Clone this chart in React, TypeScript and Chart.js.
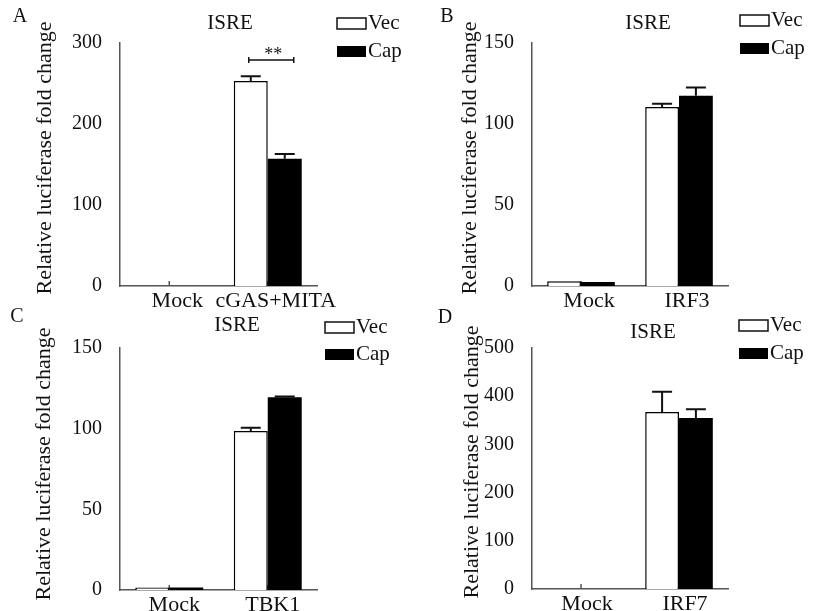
import React, { useEffect, useRef } from 'react';
import { Chart, registerables } from 'chart.js';

Chart.register(...registerables);

const FONT = '"Liberation Serif", "Times New Roman", Times, serif';
const TEXT = '#111';
const AXIS = '#555';

// ---- data ----
const seriesNames = ['Vec', 'Cap'];
const chartTitle = 'ISRE';
const yAxisTitle = 'Relative luciferase fold change';
const significanceA = '**';

const categoriesA = ['Mock', 'cGAS+MITA'];
const vecA = [0, 253];
const capA = [0, 157];
const vecErrA = [0, 6];
const capErrA = [0, 6];
const yMaxA = 300;
const yStepA = 100;

const categoriesB = ['Mock', 'IRF3'];
const vecB = [3, 110.5];
const capB = [2.5, 117.5];
const vecErrB = [0, 2];
const capErrB = [0, 5];
const yMaxB = 150;
const yStepB = 50;

const categoriesC = ['Mock', 'TBK1'];
const vecC = [1.5, 98.5];
const capC = [1.5, 119.5];
const vecErrC = [0, 2];
const capErrC = [0, 0.5];
const yMaxC = 150;
const yStepC = 50;

const categoriesD = ['Mock', 'IRF7'];
const vecD = [0, 367];
const capD = [0, 355];
const vecErrD = [0, 42];
const capErrD = [0, 18];
const yMaxD = 500;
const yStepD = 100;

// ---- layout (absolute page pixels) ----
const layouts = {
  A: { box: { x0: 0, y0: 0, w: 408, h: 310 }, area: { l: 120, r: 317, t: 43, b: 286 }, letter: { x: 20, y: 17 }, title: { x: 230, y: 23 }, yTitle: { x: 45, y: 158 }, legend: { x: 337, vecY: 18, capY: 46 }, labelOffset: 8 },
  B: { box: { x0: 408, y0: 0, w: 408, h: 310 }, area: { l: 532, r: 728, t: 43, b: 286 }, letter: { x: 447, y: 17 }, title: { x: 648, y: 23 }, yTitle: { x: 470, y: 158 }, legend: { x: 740, vecY: 15, capY: 43 }, labelOffset: 8 },
  C: { box: { x0: 0, y0: 303, w: 408, h: 308 }, area: { l: 120, r: 317, t: 348, b: 590 }, letter: { x: 17, y: 317 }, title: { x: 237, y: 325 }, yTitle: { x: 44, y: 464 }, legend: { x: 325, vecY: 322, capY: 349 }, labelOffset: 5 },
  D: { box: { x0: 408, y0: 303, w: 408, h: 308 }, area: { l: 532, r: 728, t: 348, b: 589 }, letter: { x: 445, y: 318 }, title: { x: 653, y: 332 }, yTitle: { x: 472, y: 462 }, legend: { x: 739, vecY: 320, capY: 348 }, labelOffset: 6 },
};

const panels = [
  { letter: 'A', categories: categoriesA, vec: vecA, cap: capA, vecErr: vecErrA, capErr: capErrA, yMax: yMaxA, yStep: yStepA, sig: significanceA, L: layouts.A },
  { letter: 'B', categories: categoriesB, vec: vecB, cap: capB, vecErr: vecErrB, capErr: capErrB, yMax: yMaxB, yStep: yStepB, sig: '', L: layouts.B },
  { letter: 'C', categories: categoriesC, vec: vecC, cap: capC, vecErr: vecErrC, capErr: capErrC, yMax: yMaxC, yStep: yStepC, sig: '', L: layouts.C },
  { letter: 'D', categories: categoriesD, vec: vecD, cap: capD, vecErr: vecErrD, capErr: capErrD, yMax: yMaxD, yStep: yStepD, sig: '', L: layouts.D },
];

function makePlugin(p: any) {
  const { box } = p.L;
  const rx = (x: number) => x - box.x0;
  const ry = (y: number) => y - box.y0;
  return {
    id: 'decor' + p.letter,
    beforeDatasetsDraw(chart: any) {
      const ctx = chart.ctx;
      const xs = chart.scales.x;
      const area = chart.chartArea;
      ctx.save();
      ctx.strokeStyle = AXIS;
      ctx.lineWidth = 1.5;
      p.categories.forEach((_: string, i: number) => {
        const x = xs.getPixelForValue(i);
        ctx.beginPath();
        ctx.moveTo(x, area.bottom);
        ctx.lineTo(x, area.bottom - 5);
        ctx.stroke();
      });
      ctx.restore();
    },
    afterDatasetsDraw(chart: any) {
      const ctx = chart.ctx;
      const ys = chart.scales.y;
      ctx.save();
      ctx.strokeStyle = '#111';
      ctx.lineWidth = 2;
      [p.vecErr, p.capErr].forEach((errs: number[], di: number) => {
        const meta = chart.getDatasetMeta(di);
        const vals = chart.data.datasets[di].data;
        meta.data.forEach((bar: any, i: number) => {
          const e = errs[i];
          if (!e) return;
          const top = ys.getPixelForValue(vals[i] + e);
          const base = ys.getPixelForValue(vals[i]);
          const half = 10;
          ctx.beginPath();
          ctx.moveTo(bar.x, base);
          ctx.lineTo(bar.x, top);
          ctx.moveTo(bar.x - half, top);
          ctx.lineTo(bar.x + half, top);
          ctx.stroke();
        });
      });
      if (p.sig) {
        const xs = chart.scales.x;
        const c = xs.getPixelForValue(1);
        const y = ys.getPixelForValue(279);
        const x1 = c - 19;
        const x2 = c + 26;
        ctx.lineWidth = 1.5;
        ctx.beginPath();
        ctx.moveTo(x1, y);
        ctx.lineTo(x2, y);
        ctx.moveTo(x1, y - 3);
        ctx.lineTo(x1, y + 3);
        ctx.moveTo(x2, y - 3);
        ctx.lineTo(x2, y + 3);
        ctx.stroke();
        ctx.fillStyle = TEXT;
        ctx.font = `18px ${FONT}`;
        ctx.textAlign = 'center';
        ctx.textBaseline = 'alphabetic';
        ctx.fillText(p.sig, (x1 + x2) / 2 + 2, y + 0);
      }
      ctx.restore();
    },
    afterDraw(chart: any) {
      const ctx = chart.ctx;
      const L = p.L;
      const xs = chart.scales.x;
      const area = chart.chartArea;
      ctx.save();
      ctx.fillStyle = TEXT;
      // category labels
      ctx.font = `22px ${FONT}`;
      ctx.textAlign = 'center';
      ctx.textBaseline = 'alphabetic';
      p.categories.forEach((c: string, i: number) => {
        ctx.fillText(c, xs.getPixelForValue(i) + L.labelOffset, area.bottom + 21);
      });
      ctx.textBaseline = 'middle';
      // panel letter
      ctx.font = `20px ${FONT}`;
      ctx.fillText(p.letter, rx(L.letter.x), ry(L.letter.y));
      // title
      ctx.font = `21px ${FONT}`;
      ctx.fillText(chartTitle, rx(L.title.x), ry(L.title.y));
      // y axis title
      ctx.save();
      ctx.translate(rx(L.yTitle.x), ry(L.yTitle.y));
      ctx.rotate(-Math.PI / 2);
      ctx.font = `22px ${FONT}`;
      ctx.fillText(yAxisTitle, 0, 0);
      ctx.restore();
      // legend
      const bw = 29;
      const bh = 11;
      const lx = rx(L.legend.x);
      const vy = ry(L.legend.vecY);
      const cy = ry(L.legend.capY);
      ctx.fillStyle = '#fff';
      ctx.fillRect(lx, vy, bw, bh);
      ctx.strokeStyle = '#111';
      ctx.lineWidth = 1.5;
      ctx.strokeRect(lx, vy, bw, bh);
      ctx.fillStyle = '#000';
      ctx.fillRect(lx, cy, bw, bh);
      ctx.fillStyle = TEXT;
      ctx.font = `21px ${FONT}`;
      ctx.textAlign = 'left';
      ctx.fillText(seriesNames[0], lx + bw + 2, vy + bh / 2);
      ctx.fillText(seriesNames[1], lx + bw + 2, cy + bh / 2);
      ctx.restore();
    },
  };
}

function PanelChart({ p }: { p: any }) {
  const ref = useRef<HTMLCanvasElement | null>(null);
  useEffect(() => {
    const { box, area } = p.L;
    const want = { top: area.t - box.y0, bottom: area.b - box.y0, left: area.l - box.x0, right: area.r - box.x0 };
    const st = { top: want.top, right: box.w - want.right, xh: box.h - want.bottom, yw: want.left };
    const chart = new Chart(ref.current as HTMLCanvasElement, {
      type: 'bar',
      data: {
        labels: p.categories,
        datasets: [
          { label: seriesNames[0], data: p.vec, backgroundColor: '#fff', borderColor: '#000', borderWidth: 1.5, categoryPercentage: 0.69, barPercentage: 1 },
          { label: seriesNames[1], data: p.cap, backgroundColor: '#000', borderColor: '#000', borderWidth: 0, categoryPercentage: 0.69, barPercentage: 1 },
        ],
      },
      options: {
        responsive: false,
        animation: false,
        events: [],
        layout: { autoPadding: false, padding: { left: 0, top: st.top, right: st.right, bottom: 0 } },
        plugins: { legend: { display: false }, title: { display: false }, tooltip: { enabled: false } },
        scales: {
          x: {
            grid: { display: false, drawTicks: false },
            border: { display: true, color: AXIS, width: 1.5 },
            ticks: { display: false },
            afterFit: (s: any) => { s.height = st.xh; s.paddingLeft = 0; s.paddingRight = 0; },
          },
          y: {
            min: 0,
            max: p.yMax,
            grid: { display: false, drawTicks: false },
            border: { display: true, color: AXIS, width: 1.5 },
            ticks: { stepSize: p.yStep, font: { family: FONT, size: 20 }, color: TEXT, padding: 18 },
            afterFit: (s: any) => { s.width = st.yw; s.paddingTop = 0; s.paddingBottom = 0; },
          },
        },
      },
      plugins: [makePlugin(p)],
    } as any);
    for (let k = 0; k < 2; k++) {
      const ca = chart.chartArea;
      st.top += want.top - ca.top;
      st.xh = Math.max(0, st.xh + (ca.bottom - want.bottom));
      st.yw += want.left - ca.left;
      st.right += ca.right - want.right;
      (chart.options as any).layout.padding = { left: 0, top: st.top, right: st.right, bottom: 0 };
      chart.update();
    }
    return () => chart.destroy();
  }, []);
  const { box } = p.L;
  return (
    <canvas
      ref={ref}
      width={box.w}
      height={box.h}
      style={{ position: 'absolute', left: box.x0, top: box.y0, width: box.w, height: box.h, display: 'block' }}
    />
  );
}

export default function App() {
  return (
    <div style={{ position: 'fixed', left: 0, top: 0, width: 816, height: 611, background: '#fff', overflow: 'hidden' }}>
      {panels.map((p) => (
        <PanelChart key={p.letter} p={p} />
      ))}
    </div>
  );
}
